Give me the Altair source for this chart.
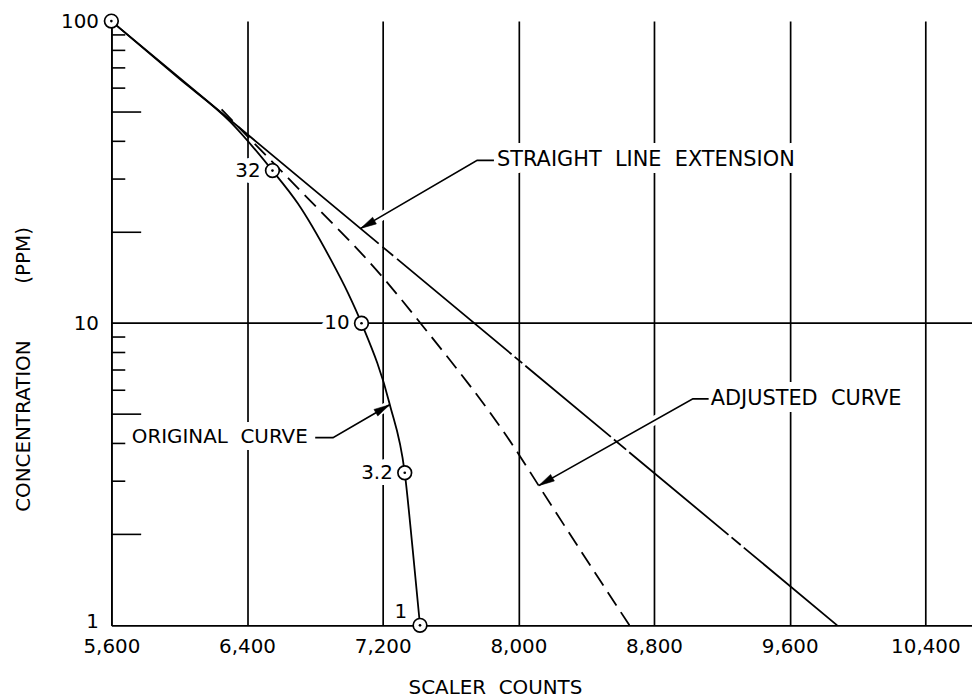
import altair as alt
import pandas as pd

# ---------------- data ----------------
orig_x = [5600, 6000, 6300, 6550, 6700, 6895, 6995, 7075, 7241, 7330, 7377, 7420]
orig_y = [100, 64.5, 46.5, 32, 24.9, 16.2, 12.6, 10, 5.4, 3.2, 1.78, 1]

adj_x = [6250, 6450, 6700, 7200, 7423, 8000, 8120, 8655]
adj_y = [51, 39, 28, 14.2, 10, 3.7, 2.9, 1]

straight_x = [5600, 9880]
straight_y = [100, 1]

pt_x = [5600, 6550, 7075, 7330, 7420]
pt_y = [100, 32, 10, 3.2, 1]

lab_x = [6550, 7075, 7330]
lab_y = [32, 10, 3.2]
lab_text = ["32", "10", "3.2"]
lab1_x = [7420]
lab1_y = [1]
lab1_text = ["1"]

x_ticks = [5600, 6400, 7200, 8000, 8800, 9600, 10400]
y_labels = [1, 10, 100]
y_minor_long = [2, 5, 20, 50]
y_minor_short = [3, 4, 6, 7, 8, 9, 30, 40, 60, 70, 80, 90]
grid_y = [10]

ann_text = ["STRAIGHT\u00a0\u00a0LINE\u00a0\u00a0EXTENSION", "ADJUSTED\u00a0\u00a0CURVE", "ORIGINAL\u00a0\u00a0CURVE"]
ann_x = [7874, 9134, 6758]
ann_y = [34.6, 5.62, 4.2]

lead_straight_x = [7856, 7757, 7070]
lead_straight_y = [34.6, 34.6, 20.6]
lead_adj_x = [9122, 9029, 8120]
lead_adj_y = [5.62, 5.62, 2.9]
lead_orig_x = [6802, 6907, 7241]
lead_orig_y = [4.18, 4.18, 5.37]

# ---------------- styling ----------------
FONT = "DejaVu Sans"
W, H = 866, 608
LW = 1.8

xaxis = alt.Axis(values=x_ticks, format=",d", grid=True, gridColor="black", gridWidth=1.7,
                 gridOpacity=1, ticks=False, domainColor="black", domainWidth=1.7,
                 labelFont=FONT, labelFontSize=20, labelColor="black", labelPadding=11,
                 labelFlush=False, labelOverlap=False,
                 title="SCALER\u00a0\u00a0COUNTS", titleX=386, titleY=63, titleAlign="center",
                 titleBaseline="middle", titleFont=FONT, titleFontSize=20,
                 titleFontWeight="normal", titleColor="black")
yaxis = alt.Axis(values=y_labels, format="d", grid=False, ticks=False,
                 domainColor="black", domainWidth=1.7,
                 labelFont=FONT, labelFontSize=20, labelColor="black", labelPadding=13,
                 labelFlush=False, labelOverlap=False,
                 labelOffset={"condition": {"test": "datum.value == 1", "value": -4}, "value": 0},
                 title="CONCENTRATION" + "\u00a0" * 9 + "(PPM)", titleX=-88, titleY=350,
                 titleAngle=270, titleAlign="center", titleBaseline="middle",
                 titleFont=FONT, titleFontSize=20, titleFontWeight="normal", titleColor="black")

xs = alt.Scale(domain=[5600, 10675], nice=False, zero=False)
ys = alt.Scale(type="log", domain=[1, 100], nice=False)


def X(f="x"):
    return alt.X(f"{f}:Q", scale=xs, axis=xaxis)


def Y(f="y"):
    return alt.Y(f"{f}:Q", scale=ys, axis=yaxis)


def df(xv, yv, **extra):
    d = {"x": xv, "y": yv}
    d.update(extra)
    return pd.DataFrame(d)


layers = []

# horizontal line at 10
layers.append(alt.Chart(pd.DataFrame({"y": grid_y})).mark_rule(color="black", strokeWidth=1.7)
              .encode(y=Y(), x=alt.value(0), x2=alt.value(W)))
# inner ticks on y axis
layers.append(alt.Chart(pd.DataFrame({"y": y_minor_long})).mark_rule(color="black", strokeWidth=1.6)
              .encode(y=Y(), x=alt.value(0), x2=alt.value(30)))
layers.append(alt.Chart(pd.DataFrame({"y": y_minor_short})).mark_rule(color="black", strokeWidth=1.6)
              .encode(y=Y(), x=alt.value(0), x2=alt.value(14)))

# text halos (gaps in grid lines)
ann_align = ["left", "left", "right"]
ann_size = [21, 21, 20]
for t, xv, yv, al, fs in zip(ann_text, ann_x, ann_y, ann_align, ann_size):
    layers.append(alt.Chart(df([xv], [yv], t=[t])).mark_text(
        font=FONT, fontSize=fs, align=al, baseline="middle", fill="white", stroke="white",
        strokeWidth=14, strokeJoin="round").encode(x=X(), y=Y(), text="t:N"))
layers.append(alt.Chart(df(lab_x, lab_y, t=lab_text)).mark_text(
    font=FONT, fontSize=20, align="right", baseline="middle", dx=-12, fill="white",
    stroke="white", strokeWidth=12, strokeJoin="round").encode(x=X(), y=Y(), text="t:N"))

# leader halos
leaders = [(lead_straight_x, lead_straight_y), (lead_adj_x, lead_adj_y), (lead_orig_x, lead_orig_y)]
for lx, ly in leaders:
    layers.append(alt.Chart(df(lx, ly, o=list(range(len(lx))))).mark_line(
        color="white", strokeWidth=9).encode(x=X(), y=Y(), order="o:Q"))

# curves
layers.append(alt.Chart(df(orig_x, orig_y)).mark_line(
    interpolate="monotone", color="black", strokeWidth=LW).encode(x=X(), y=Y()))
layers.append(alt.Chart(df(adj_x, adj_y)).mark_line(
    interpolate="monotone", color="black", strokeWidth=LW, strokeDash=[16, 8]).encode(x=X(), y=Y()))
layers.append(alt.Chart(df(straight_x, straight_y)).mark_line(
    color="black", strokeWidth=LW,
    strokeDash=[350, 5, 14, 5, 150, 4, 10, 4, 112, 4, 16, 4, 130, 4, 12, 4, 200]
).encode(x=X(), y=Y()))

# leader lines
for lx, ly in leaders:
    layers.append(alt.Chart(df(lx, ly, o=list(range(len(lx))))).mark_line(
        color="black", strokeWidth=1.7).encode(x=X(), y=Y(), order="o:Q"))

# arrowheads
arrow_angle = [240.6, 240, 60]
for (lx, ly), ang in zip(leaders, arrow_angle):
    layers.append(alt.Chart(df([lx[-1]], [ly[-1]])).mark_point(
        shape="M0,0L0.24,1L-0.24,1Z", filled=True, fill="black", stroke="black",
        strokeWidth=0.5, size=1024, angle=ang, opacity=1).encode(x=X(), y=Y()))

# circles with dots
layers.append(alt.Chart(df(pt_x, pt_y)).mark_point(
    shape="circle", filled=True, fill="white", stroke="black", strokeWidth=1.7,
    size=190, opacity=1).encode(x=X(), y=Y()))
layers.append(alt.Chart(df(pt_x, pt_y)).mark_point(
    shape="circle", filled=True, color="black", size=7, opacity=1).encode(x=X(), y=Y()))

# texts
for t, xv, yv, al, fs in zip(ann_text, ann_x, ann_y, ann_align, ann_size):
    layers.append(alt.Chart(df([xv], [yv], t=[t])).mark_text(
        font=FONT, fontSize=fs, align=al, baseline="middle", color="black"
    ).encode(x=X(), y=Y(), text="t:N"))
layers.append(alt.Chart(df(lab_x, lab_y, t=lab_text)).mark_text(
    font=FONT, fontSize=20, align="right", baseline="middle", dx=-12, color="black"
).encode(x=X(), y=Y(), text="t:N"))
layers.append(alt.Chart(df(lab1_x, lab1_y, t=lab1_text)).mark_text(
    font=FONT, fontSize=20, align="right", baseline="middle", dx=-13, dy=-13, color="black"
).encode(x=X(), y=Y(), text="t:N"))

chart = alt.layer(*layers).properties(
    width=W, height=H,
    autosize=alt.AutoSizeParams(type="none"),
    padding={"left": 104, "top": 11, "right": 0, "bottom": 80},
    background="white",
).configure_view(stroke=None)

chart.save("out.html", embed_options={"renderer": "svg", "actions": False})
